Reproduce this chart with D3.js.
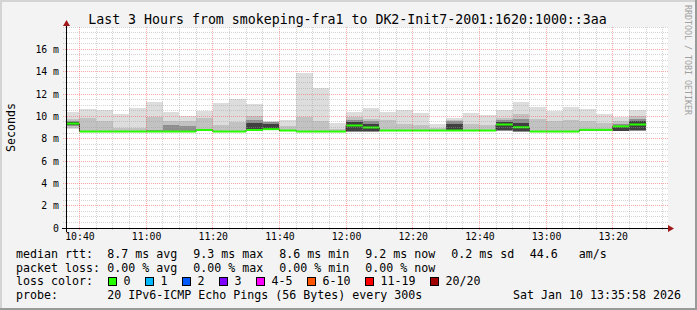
<!DOCTYPE html>
<html>
<head>
<meta charset="utf-8">
<script src="https://cdn.jsdelivr.net/npm/d3@7"></script>
<style>
  body { margin: 0; background: #f3f3f3; }
  text { font-family: 'DejaVu Sans Mono', monospace; white-space: pre; }
</style>
</head>
<body>
<script>
/* SMOKEPING : 3 DERNIERES HEURES */

// début de chaque tranche de 5 minutes
const debuts = ['10:35','10:40','10:45','10:50','10:55','11:00','11:05','11:10','11:15','11:20',
  '11:25','11:30','11:35','11:40','11:45','11:50','11:55','12:00','12:05','12:10',
  '12:15','12:20','12:25','12:30','12:35','12:40','12:45','12:50','12:55','13:00',
  '13:05','13:10','13:15','13:20','13:25'];

// médiane rtt (ms)
const medianes = [9.35, 8.64, 8.64, 8.64, 8.64, 8.64, 8.64, 8.64, 8.78, 8.64,
  8.64, 8.78, 8.85, 8.73, 8.64, 8.64, 8.64, 9.18, 9.0, 8.73,
  8.73, 8.73, 8.73, 8.73, 8.73, 8.73, 9.27, 9.02, 8.64, 8.64,
  8.64, 8.79, 8.79, 9.1, 9.27];

// fumée : bornes des pings triés (min ... max), 4 bandes emboîtées
const fumee = [
  [8.9, 9.0, 9.15, 9.25, 9.45, 9.55, 9.75, 10.4],
  [8.56, 8.59, 8.61, 8.62, 8.66, 8.7, 9.85, 10.67],
  [8.56, 8.59, 8.61, 8.62, 8.66, 8.7, 9.55, 10.58],
  [8.56, 8.59, 8.61, 8.62, 8.66, 8.7, 8.95, 10.2],
  [8.56, 8.59, 8.61, 8.62, 8.66, 8.7, 9.0, 10.79],
  [8.56, 8.59, 8.61, 8.62, 8.66, 8.75, 9.9, 11.27],
  [8.56, 8.59, 8.61, 8.62, 8.66, 9.2, 9.6, 10.43],
  [8.56, 8.59, 8.61, 8.62, 8.66, 9.15, 9.6, 10.07],
  [8.68, 8.72, 8.75, 8.76, 8.8, 8.85, 9.87, 10.52],
  [8.56, 8.59, 8.61, 8.62, 8.66, 8.7, 9.24, 11.18],
  [8.56, 8.59, 8.61, 8.62, 8.66, 8.7, 9.53, 11.56],
  [8.68, 8.72, 8.74, 8.75, 9.4, 9.7, 10.07, 11.09],
  [8.75, 8.78, 8.8, 8.82, 9.35, 9.45, 9.5, 9.6],
  [8.65, 8.68, 8.7, 8.71, 8.75, 8.8, 9.1, 9.69],
  [8.56, 8.59, 8.61, 8.62, 8.66, 8.7, 9.98, 13.92],
  [8.56, 8.59, 8.61, 8.62, 8.66, 8.7, 9.6, 12.58],
  [8.56, 8.59, 8.61, 8.62, 8.66, 8.7, 8.85, 9.39],
  [8.6, 8.62, 8.64, 8.66, 9.45, 9.7, 9.9, 10.43],
  [8.6, 8.62, 8.64, 8.66, 9.35, 9.55, 9.8, 10.79],
  [8.65, 8.68, 8.7, 8.71, 8.75, 8.8, 9.69, 10.43],
  [8.65, 8.68, 8.7, 8.71, 8.75, 8.8, 9.3, 10.58],
  [8.65, 8.68, 8.7, 8.71, 8.75, 8.8, 9.2, 10.34],
  [8.65, 8.68, 8.7, 8.71, 8.75, 8.8, 8.95, 9.27],
  [8.66, 8.68, 8.7, 8.71, 9.35, 9.6, 9.7, 9.82],
  [8.65, 8.68, 8.7, 8.71, 8.75, 8.8, 9.3, 10.29],
  [8.65, 8.68, 8.7, 8.71, 8.75, 8.8, 9.2, 10.1],
  [8.68, 8.7, 8.72, 8.74, 9.45, 9.65, 9.85, 10.58],
  [8.6, 8.62, 8.64, 8.66, 9.4, 9.8, 10.2, 11.3],
  [8.56, 8.59, 8.61, 8.62, 8.66, 8.7, 9.8, 10.88],
  [8.56, 8.59, 8.61, 8.62, 8.66, 8.7, 9.6, 10.49],
  [8.56, 8.59, 8.61, 8.62, 8.66, 8.7, 9.7, 10.82],
  [8.7, 8.73, 8.76, 8.77, 8.81, 8.9, 9.6, 10.67],
  [8.7, 8.73, 8.76, 8.77, 8.81, 8.9, 9.4, 10.2],
  [8.65, 8.68, 8.7, 8.72, 9.15, 9.35, 9.55, 9.98],
  [8.68, 8.7, 8.72, 8.74, 9.55, 9.8, 10.0, 10.58]
];
const couleursFumee = ['#dddddd', '#c2c2c2', '#8e8e8e', '#404040'];

// axes
const ticksY = [0, 2, 4, 6, 8, 10, 12, 14, 16];
const etiquettesY = ['0', '2 m', '4 m', '6 m', '8 m', '10 m', '12 m', '14 m', '16 m'];
const ticksX = ['10:40', '11:00', '11:20', '11:40', '12:00', '12:20', '12:40', '13:00', '13:20'];

// légende
const titre = 'Last 3 Hours from smokeping-fra1 to DK2-Init7-2001:1620:1000::3aa';
const statsRtt = ['8.7 ms avg', '9.3 ms max', '8.6 ms min', '9.2 ms now', '0.2 ms sd', '44.6   am/s'];
const statsPerte = ['0.00 % avg', '0.00 % max', '0.00 % min', '0.00 % now'];
const pertesNoms = ['0', '1', '2', '3', '4-5', '6-10', '11-19', '20/20'];
const pertesCouleurs = ['#26ff00', '#00b8ff', '#0059ff', '#7e00ff', '#ff00ff', '#ff5500', '#ff0000', '#a00000'];
const sonde = '20 IPv6-ICMP Echo Pings (56 Bytes) every 300s';
const horodatage = 'Sat Jan 10 13:35:58 2026';

const W = 697, H = 310;
const cadre = {g: 66, d: 666, h: 27, b: 228};
const colStats = [107.3, 193.3, 279.3, 365.3, 451.3, 529.7];
const pas = 7.0;

const lireHeure = d3.timeParse('%H:%M:%S');
const x = d3.scaleTime()
  .domain([lireHeure('10:35:58'), lireHeure('13:35:58')])
  .range([cadre.g, cadre.d]);
const y = d3.scaleLinear().domain([0, 18]).range([cadre.b, cadre.h]);
const net = v => Math.floor(v) + 0.5;
const t = s => lireHeure(s + ':00');
const finTranche = s => d3.timeMinute.offset(t(s), 5);

// créer le canevas
const svg = d3.select('body').append('svg')
  .attr('width', W)
  .attr('height', H);

svg.append('rect').attr('width', W).attr('height', H).attr('fill', '#f3f3f3');
// bord 3D
svg.append('rect').attr('x', 0).attr('y', 0).attr('width', W).attr('height', 2).attr('fill', '#d4d4d4');
svg.append('rect').attr('x', 0).attr('y', 0).attr('width', 2).attr('height', H).attr('fill', '#d4d4d4');
svg.append('rect').attr('x', 0).attr('y', H - 2).attr('width', W).attr('height', 2).attr('fill', '#9a9a9a');
svg.append('rect').attr('x', W - 2).attr('y', 0).attr('width', 2).attr('height', H).attr('fill', '#9a9a9a');

// zone du graphe
svg.append('rect')
  .attr('x', cadre.g).attr('y', cadre.h)
  .attr('width', cadre.d + 2 - cadre.g).attr('height', cadre.b - cadre.h)
  .attr('fill', '#ffffff');

// fumée
const tranches = svg.append('g').attr('shape-rendering', 'crispEdges');
debuts.forEach((d, i) => {
  const x0 = Math.max(x(t(d)), cadre.g);
  const x1 = x(finTranche(d));
  couleursFumee.forEach((c, b) => {
    tranches.append('rect')
      .attr('x', x0)
      .attr('width', x1 - x0)
      .attr('y', y(fumee[i][7 - b]))
      .attr('height', y(fumee[i][b]) - y(fumee[i][7 - b]))
      .attr('fill', c);
  });
});

// médiane : trait fin en escalier puis segments verts
const points = debuts.map((d, i) => [Math.max(x(t(d)), cadre.g), y(medianes[i])]);
points.push([x(finTranche(debuts[debuts.length - 1])), y(medianes[medianes.length - 1])]);
svg.append('path')
  .attr('d', d3.line().curve(d3.curveStepAfter)(points))
  .attr('fill', 'none')
  .attr('stroke', '#202020')
  .attr('stroke-width', 1);
svg.append('g').selectAll('line')
  .data(debuts)
  .join('line')
  .attr('x1', d => Math.max(x(t(d)), cadre.g))
  .attr('x2', d => x(finTranche(d)))
  .attr('y1', (d, i) => y(medianes[i]))
  .attr('y2', (d, i) => y(medianes[i]))
  .attr('stroke', pertesCouleurs[0])
  .attr('stroke-width', 2);

// grille
const grille = svg.append('g').attr('shape-rendering', 'crispEdges').attr('stroke-dasharray', '1,1');
d3.range(1, 37).map(v => v / 2).forEach(v => {
  const majeur = v % 2 === 0 && v < 18;
  grille.append('line')
    .attr('x1', cadre.g - 3).attr('x2', cadre.d + 2)
    .attr('y1', net(y(v))).attr('y2', net(y(v)))
    .attr('stroke', majeur ? '#ff4040' : '#a0a0a0')
    .attr('stroke-opacity', 0.45);
});
x.ticks(d3.timeMinute.every(5)).forEach(d => {
  const majeur = d.getMinutes() % 20 === 0;
  grille.append('line')
    .attr('x1', net(x(d))).attr('x2', net(x(d)))
    .attr('y1', cadre.h).attr('y2', cadre.b + 3)
    .attr('stroke', majeur ? '#ff4040' : '#a0a0a0')
    .attr('stroke-opacity', 0.45);
});

// axes
svg.append('line')
  .attr('x1', cadre.g - 4).attr('x2', cadre.d + 4)
  .attr('y1', cadre.b + 0.5).attr('y2', cadre.b + 0.5)
  .attr('stroke', '#000').attr('shape-rendering', 'crispEdges');
svg.append('line')
  .attr('x1', cadre.g + 0.5).attr('x2', cadre.g + 0.5)
  .attr('y1', cadre.b + 4).attr('y2', cadre.h - 4)
  .attr('stroke', '#000').attr('shape-rendering', 'crispEdges');
svg.append('path')
  .attr('d', `M${cadre.d + 2},${cadre.b - 3} L${cadre.d + 8},${cadre.b + 0.5} L${cadre.d + 2},${cadre.b + 4} Z`)
  .attr('fill', '#a01818');
svg.append('path')
  .attr('d', `M${cadre.g - 3},${cadre.h - 1} L${cadre.g + 0.5},${cadre.h - 7} L${cadre.g + 4},${cadre.h - 1} Z`)
  .attr('fill', '#a01818');

// étiquettes des axes
svg.append('g').selectAll('text')
  .data(ticksY)
  .join('text')
  .attr('x', 59)
  .attr('y', d => y(d) + 3.5)
  .attr('text-anchor', 'end')
  .attr('font-size', '9.8px')
  .attr('fill', '#000')
  .text((d, i) => etiquettesY[i]);
svg.append('g').selectAll('text')
  .data(ticksX)
  .join('text')
  .attr('x', d => x(t(d)) + 0.5)
  .attr('y', 239.5)
  .attr('text-anchor', 'middle')
  .attr('font-size', '9.8px')
  .attr('fill', '#000')
  .text(d => d);

svg.append('text')
  .attr('transform', 'translate(15,127.5) rotate(-90)')
  .attr('text-anchor', 'middle')
  .attr('font-size', '11.63px')
  .text('Seconds');

// titre
svg.append('text')
  .attr('x', 347.5).attr('y', 24)
  .attr('text-anchor', 'middle')
  .attr('font-size', '13.25px')
  .text(titre);

// filigrane
svg.append('text')
  .attr('transform', 'translate(684.5,5) rotate(90)')
  .attr('font-size', '8.3px')
  .attr('fill', '#a0a0a0')
  .text('RRDTOOL / TOBI OETIKER');

// légende
const lignes = [258, 271.5, 285, 298.5];
const legende = svg.append('g').attr('font-size', '11.63px').attr('fill', '#000');
const ecrire = (txt, px, py) => legende.append('text').attr('x', px).attr('y', py).text(txt);

ecrire('median rtt:', 16, lignes[0]);
statsRtt.forEach((s, i) => ecrire(s, colStats[i], lignes[0]));
ecrire('packet loss:', 16, lignes[1]);
statsPerte.forEach((s, i) => ecrire(s, colStats[i], lignes[1]));
ecrire('loss color:', 16, lignes[2]);
let curseur = 108.5;
pertesNoms.forEach((n, i) => {
  legende.append('rect')
    .attr('x', curseur).attr('y', lignes[2] - 7.5)
    .attr('width', 8).attr('height', 8)
    .attr('fill', pertesCouleurs[i])
    .attr('stroke', '#000').attr('stroke-width', 1);
  ecrire(n, curseur + 15, lignes[2]);
  curseur += 15 + n.length * pas + 15;
});
ecrire('probe:', 16, lignes[3]);
ecrire(sonde, colStats[0], lignes[3]);
ecrire(horodatage, 513, lignes[3]);
</script>
</body>
</html>
